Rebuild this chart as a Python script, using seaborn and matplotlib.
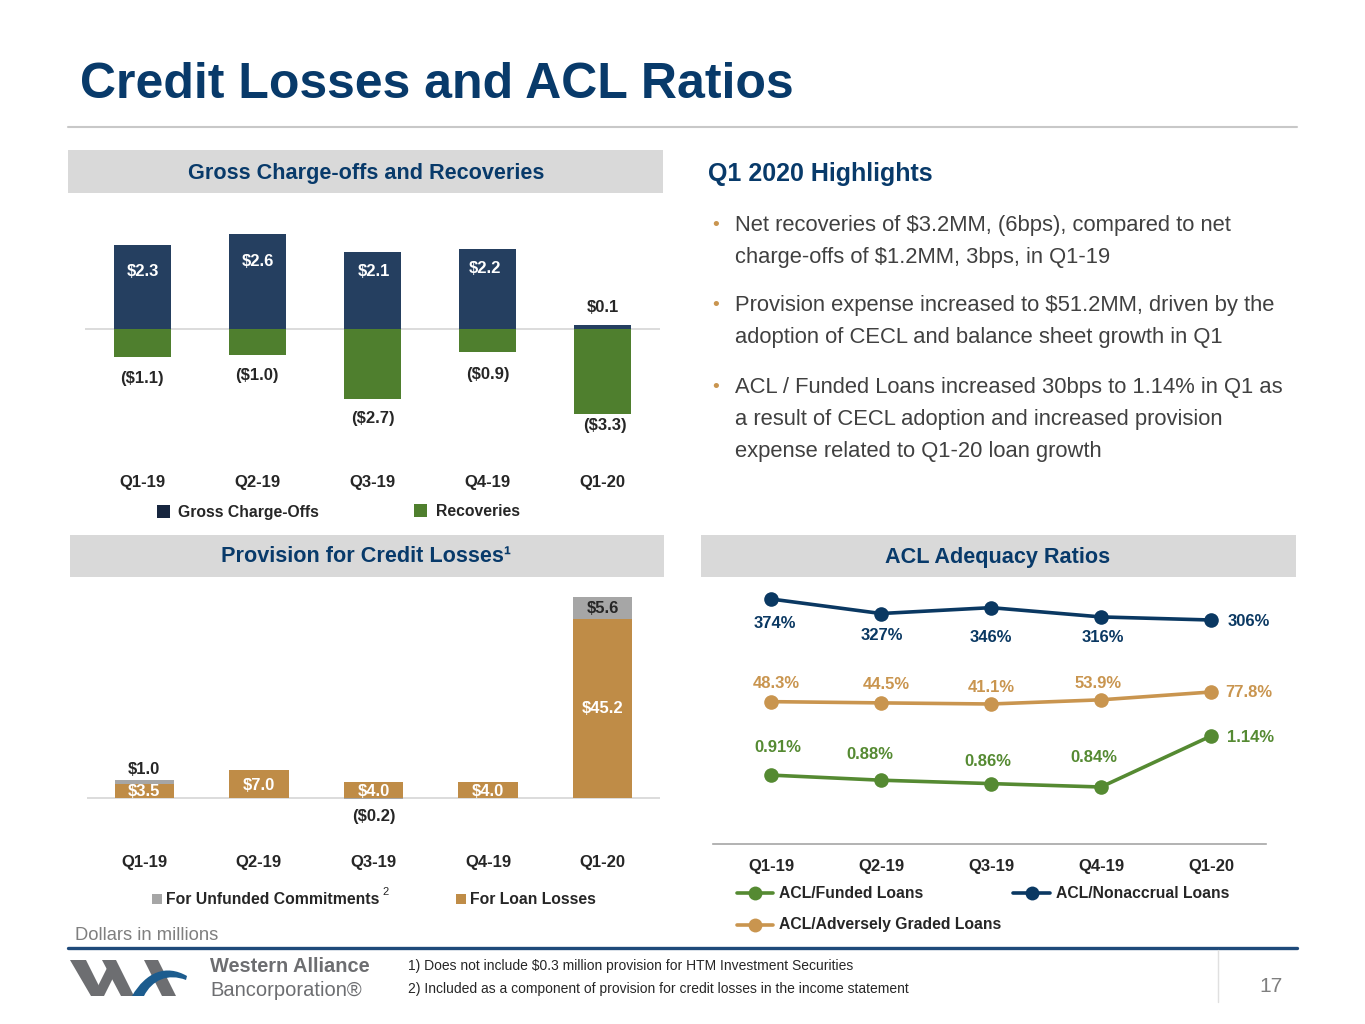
import numpy as np
import pandas as pd
import matplotlib
matplotlib.use("Agg")
import matplotlib.pyplot as plt
import seaborn as sns
from matplotlib import font_manager as fm
from matplotlib.patches import Rectangle, Polygon
from matplotlib.lines import Line2D
from matplotlib.path import Path
from matplotlib.patches import PathPatch

# ---------------- data ----------------
quarters = ["Q1-19", "Q2-19", "Q3-19", "Q4-19", "Q1-20"]
gross_chargeoffs = [2.3, 2.6, 2.1, 2.2, 0.1]
recoveries = [-1.1, -1.0, -2.7, -0.9, -3.3]
prov_loan_losses = [3.5, 7.0, 4.0, 4.0, 45.2]
prov_unfunded = [1.0, 0.0, -0.2, 0.0, 5.6]
acl_funded = [0.91, 0.88, 0.86, 0.84, 1.14]
acl_nonaccrual = [374, 327, 346, 316, 306]
acl_adversely = [48.3, 44.5, 41.1, 53.9, 77.8]

highlights = [
    ["Net recoveries of $3.2MM, (6bps), compared to net",
     "charge-offs of $1.2MM, 3bps, in Q1-19"],
    ["Provision expense increased to $51.2MM, driven by the",
     "adoption of CECL and balance sheet growth in Q1"],
    ["ACL / Funded Loans increased 30bps to 1.14% in Q1 as",
     "a result of CECL adoption and increased provision",
     "expense related to Q1-20 loan growth"],
]
footnotes = ["1) Does not include $0.3 million provision for HTM Investment Securities",
             "2) Included as a component of provision for credit losses in the income statement"]

# ---------------- style ----------------
sns.set_theme(style="white")
names = {f.name for f in fm.fontManager.ttflist}
NARROW = "Liberation Sans Narrow" if "Liberation Sans Narrow" in names else "Liberation Sans"
plt.rcParams["font.family"] = [NARROW, "DejaVu Sans"]

C_TITLE = "#083A6A"
C_HDR = "#D9D9D9"
C_NAVYBAR = "#253F60"
C_NAVYSQ = "#17263F"
C_GREEN = "#4F7F2E"
C_TAN = "#BF8C47"
C_GREY = "#A6A6A6"
C_TXT = "#262626"
C_BODY = "#404040"
L_NAVY = "#0A3862"
L_TAN = "#C9954F"
L_GREEN = "#558A32"

FS_TICK = 12
FS_VAL = 12
FS_LEG = 11.3
FS_HDR = 15.6

W, H = 1365, 1024
fig = plt.figure(figsize=(W / 100, H / 100), dpi=100)
fig.patch.set_facecolor("white")


def rect(x0, y0, x1, y1):
    return [x0 / W, 1 - y1 / H, (x1 - x0) / W, (y1 - y0) / H]


def fx(x):
    return x / W


def fy(y):
    return 1 - y / H


def ftext(x, y, s, **kw):
    kw.setdefault("va", "center")
    return fig.text(fx(x), fy(y), s, **kw)


def fbox(x0, y0, x1, y1, color, **kw):
    fig.add_artist(Rectangle((fx(x0), fy(y1)), (x1 - x0) / W, (y1 - y0) / H,
                             transform=fig.transFigure, facecolor=color,
                             edgecolor="none", **kw))


def fline(xs, ys, **kw):
    fig.add_artist(Line2D([fx(v) for v in xs], [fy(v) for v in ys],
                          transform=fig.transFigure, **kw))


# ---------------- title ----------------
ftext(80, 85, "Credit Losses and ACL Ratios", fontsize=36, fontweight="bold",
      color=C_TITLE, ha="left")
fline([68, 1297], [127, 127], color="#C8C8C8", lw=1.5)

# ---------------- header boxes ----------------
fbox(68, 150, 663, 193, C_HDR)
ftext(366, 173, "Gross Charge-offs and Recoveries", fontsize=FS_HDR, fontweight="bold",
      color=C_TITLE, ha="center")
fbox(70, 535, 664, 577, C_HDR)
ftext(366, 557, "Provision for Credit Losses\u00b9", fontsize=FS_HDR, fontweight="bold",
      color=C_TITLE, ha="center")
fbox(701, 535, 1296, 577, C_HDR)
ftext(998, 557, "ACL Adequacy Ratios", fontsize=FS_HDR, fontweight="bold",
      color=C_TITLE, ha="center")


def clean(ax):
    for s in ax.spines.values():
        s.set_visible(False)
    ax.set_yticks([])
    ax.set_ylabel("")
    ax.set_xlabel("")
    ax.set_facecolor("none")


def fmt_money(v):
    return f"${v:.1f}" if v >= 0 else f"(${abs(v):.1f})"


# ---------------- panel 1: gross charge-offs and recoveries ----------------
df1 = pd.DataFrame({"Quarter": quarters, "Gross Charge-Offs": gross_chargeoffs,
                    "Recoveries": recoveries})
ax1 = fig.add_axes(rect(85, 210, 660, 468))
sns.barplot(data=df1, x="Quarter", y="Gross Charge-Offs", color=C_NAVYBAR, width=0.5,
            saturation=1, errorbar=None, edgecolor="none", linewidth=0, ax=ax1)
ax1.set_ylim(-139 / 36.5, 119 / 36.5)
ax1.axhline(0, color="#D9D9D9", lw=1.3, zorder=0)
ax1b = ax1.twinx()
sns.barplot(data=df1, x="Quarter", y="Recoveries", color=C_GREEN, width=0.5,
            saturation=1, errorbar=None, edgecolor="none", linewidth=0, ax=ax1b)
ax1b.set_ylim(-139 / 25.8, 119 / 25.8)
for a in (ax1, ax1b):
    clean(a)
ax1.set_xlim(-0.5, 4.5)
ax1.tick_params(axis="x", length=0, pad=5)
ax1.set_xticks(range(5))
ax1.set_xticklabels(quarters, fontsize=FS_TICK, fontweight="bold", color=C_TXT)

co_off = [(0, -26), (0, -27), (1, -19), (-3, -20), (0, 18)]
for i, v in enumerate(gross_chargeoffs):
    inside = co_off[i][1] < 0
    ax1.annotate(fmt_money(v), (i, v), xytext=co_off[i], textcoords="offset pixels",
                 ha="center", va="center", fontsize=FS_VAL, fontweight="bold",
                 color="white" if inside else C_TXT)
rec_off = [(-1, -21), (-1, -21), (0, -20), (0, -22), (2, -11)]
for i, v in enumerate(recoveries):
    ax1b.annotate(fmt_money(v), (i, v), xytext=rec_off[i], textcoords="offset pixels",
                  ha="center", va="center", fontsize=FS_VAL, fontweight="bold", color=C_TXT)

# legend 1
fbox(157, 505, 170, 518, C_NAVYSQ)
ftext(178, 513, "Gross Charge-Offs", fontsize=FS_LEG, fontweight="bold", color=C_TXT, ha="left")
fbox(414, 504, 427, 517, C_GREEN)
ftext(436, 512, "Recoveries", fontsize=FS_LEG, fontweight="bold", color=C_TXT, ha="left")

# ---------------- panel 2: provision ----------------
df2 = pd.DataFrame({"Quarter": quarters, "loan": prov_loan_losses, "unf": prov_unfunded})
df2["grey_top"] = np.where(df2["unf"] > 0, df2["loan"] + df2["unf"], df2["unf"])
ax2 = fig.add_axes(rect(87, 585, 660, 848))
sns.barplot(data=df2, x="Quarter", y="grey_top", color=C_GREY, width=0.52,
            saturation=1, errorbar=None, edgecolor="none", linewidth=0, ax=ax2)
sns.barplot(data=df2, x="Quarter", y="loan", color=C_TAN, width=0.52,
            saturation=1, errorbar=None, edgecolor="none", linewidth=0, ax=ax2)
ax2.set_ylim(-50 / 3.95, 213 / 3.95)
ax2.axhline(0, color="#D9D9D9", lw=1.3, zorder=0)
clean(ax2)
ax2.set_xlim(-0.5, 4.5)
ax2.tick_params(axis="x", length=0, pad=5)
ax2.set_xticks(range(5))
ax2.set_xticklabels(quarters, fontsize=FS_TICK, fontweight="bold", color=C_TXT)

loan_off = [(0, -7), (0, -15), (0, -9), (0, -9), (0, None)]
for i, v in enumerate(prov_loan_losses):
    if loan_off[i][1] is None:
        ax2.annotate(fmt_money(v), (i, v / 2), xytext=(0, 0), textcoords="offset pixels",
                     ha="center", va="center", fontsize=FS_VAL, fontweight="bold", color="white")
    else:
        ax2.annotate(fmt_money(v), (i, v), xytext=loan_off[i], textcoords="offset pixels",
                     ha="center", va="center", fontsize=FS_VAL, fontweight="bold", color="white")
unf_off = {0: (0, 11), 2: (0, -18), 4: (0, -11)}
for i, v in enumerate(prov_unfunded):
    if v == 0:
        continue
    ytop = df2["grey_top"][i]
    ax2.annotate(fmt_money(v), (i, ytop), xytext=unf_off[i], textcoords="offset pixels",
                 ha="center", va="center", fontsize=FS_VAL, fontweight="bold", color=C_TXT)

# legend 2
fbox(152, 894, 162, 904, C_GREY)
ftext(166, 899, "For Unfunded Commitments", fontsize=FS_LEG, fontweight="bold",
      color=C_TXT, ha="left")
ftext(382, 892, "2", fontsize=8, color=C_TXT, ha="left")
fbox(456, 894, 466, 904, C_TAN)
ftext(470, 899, "For Loan Losses", fontsize=FS_LEG, fontweight="bold", color=C_TXT, ha="left")

ftext(75, 935, "Dollars in millions", fontsize=13.2, color="#7F7F7F", ha="left")

# ---------------- panel 3: ACL ratios ----------------
df3 = pd.DataFrame({"idx": range(5), "funded": acl_funded,
                    "nonaccrual": acl_nonaccrual, "adversely": acl_adversely})
ax3 = fig.add_axes(rect(713, 585, 1266, 844))
ax3b = ax3.twinx()
ax3c = ax3.twinx()
line_kw = dict(lw=2.6, marker="o", markersize=10.5, markeredgewidth=0)
sns.lineplot(data=df3, x="idx", y="funded", color=L_GREEN, ax=ax3, **line_kw)
sns.lineplot(data=df3, x="idx", y="nonaccrual", color=L_NAVY, ax=ax3b, **line_kw)
sns.lineplot(data=df3, x="idx", y="adversely", color=L_TAN, ax=ax3c, **line_kw)
ax3.set_ylim(0.84 - 57 / 170, 0.84 + 202 / 170)
ax3b.set_ylim(374 - 245 / 0.309, 374 + 14 / 0.309)
ax3c.set_ylim(41.1 - 140 / 0.327, 41.1 + 119 / 0.327)
for a in (ax3, ax3b, ax3c):
    clean(a)
ax3.spines["bottom"].set_visible(True)
ax3.spines["bottom"].set_color("#A6A6A6")
ax3.spines["bottom"].set_linewidth(1.2)
ax3.set_xlim(-0.527, 4.5)
ax3.set_xticks(range(5))
ax3.set_xticklabels(quarters, fontsize=FS_TICK, fontweight="bold", color=C_TXT)
ax3.tick_params(axis="x", length=0, pad=11)

non_off = [(4, -25), (1, -22), (0, -30), (2, -21), (38, -1)]
adv_off = [(5, 18), (5, 18), (0, 16), (-3, 16), (38, -1)]
fun_off = [(7, 28), (-11, 26), (-3, 22), (-7, 29), (40, -1)]
for i in range(5):
    ax3b.annotate(f"{acl_nonaccrual[i]}%", (i, acl_nonaccrual[i]), xytext=non_off[i],
                  textcoords="offset pixels", ha="center", va="center", fontsize=FS_VAL,
                  fontweight="bold", color=L_NAVY)
    ax3c.annotate(f"{acl_adversely[i]:.1f}%", (i, acl_adversely[i]), xytext=adv_off[i],
                  textcoords="offset pixels", ha="center", va="center", fontsize=FS_VAL,
                  fontweight="bold", color=L_TAN)
    ax3.annotate(f"{acl_funded[i]:.2f}%", (i, acl_funded[i]), xytext=fun_off[i],
                 textcoords="offset pixels", ha="center", va="center", fontsize=FS_VAL,
                 fontweight="bold", color=L_GREEN)

# legend 3
for (x0, x1, y, col, lab) in [(737, 773, 893, L_GREEN, "ACL/Funded Loans"),
                              (1013, 1050, 893, L_NAVY, "ACL/Nonaccrual Loans"),
                              (737, 773, 925, L_TAN, "ACL/Adversely Graded Loans")]:
    fline([x0, x1], [y, y], color=col, lw=2.6)
    fline([(x0 + x1) / 2], [y], color=col, marker="o", markersize=10, markeredgewidth=0)
    ftext(x1 + 6, y, lab, fontsize=FS_LEG, fontweight="bold", color=C_TXT, ha="left")

# ---------------- highlights ----------------
ftext(708, 174, "Q1 2020 Highlights", fontsize=18, fontweight="bold", color=C_TITLE, ha="left")
ys = [[225, 257], [306, 338], [387, 419, 451]]
for block, yy in zip(highlights, ys):
    ftext(716, yy[0], "\u2022", fontsize=14, color="#C9954F", ha="center")
    for line, y in zip(block, yy):
        ftext(735, y, line, fontsize=15.8, color=C_BODY, ha="left")

# ---------------- footer ----------------
fline([68, 1297], [948, 948], color="#1F4A7A", lw=2.4)
fline([1218, 1218], [950, 1002], color="#E0E0E0", lw=1)
logo_grey = "#6D6E71"
for pts in [[(70, 960), (86, 960), (104, 996), (91, 996)],
            [(93, 996), (104, 996), (114, 976), (108, 966)],
            [(102, 960), (116, 960), (134, 996), (121, 996)],
            [(144, 960), (158, 960), (176, 996), (162, 996)]]:
    fig.add_artist(Polygon([(fx(a), fy(b)) for a, b in pts], closed=True,
                           transform=fig.transFigure, facecolor=logo_grey, edgecolor="none"))
verts = [(fx(132), fy(996)), (fx(146), fy(972)), (fx(166), fy(964)), (fx(187), fy(976)),
         (fx(186), fy(980)), (fx(168), fy(973)), (fx(152), fy(980)), (fx(144), fy(996)),
         (fx(132), fy(996))]
codes = [Path.MOVETO, Path.CURVE4, Path.CURVE4, Path.CURVE4, Path.LINETO,
         Path.CURVE4, Path.CURVE4, Path.CURVE4, Path.CLOSEPOLY]
fig.add_artist(PathPatch(Path(verts, codes), transform=fig.transFigure,
                         facecolor="#1C5C8E", edgecolor="none"))
ftext(210, 966, "Western Alliance", fontsize=14.4, fontweight="bold", color=logo_grey,
      ha="left", family=["Liberation Sans", "DejaVu Sans"])
ftext(210, 990, "Bancorporation\u00ae", fontsize=14.5, color=logo_grey, ha="left",
      family=["Liberation Sans", "DejaVu Sans"])
for t, y in zip(footnotes, [966, 989]):
    ftext(408, y, t, fontsize=10, color=C_TXT, ha="left")
ftext(1271, 986, "17", fontsize=15, color="#7F7F7F", ha="center")

fig.savefig("out.png", dpi=100, facecolor="white")
